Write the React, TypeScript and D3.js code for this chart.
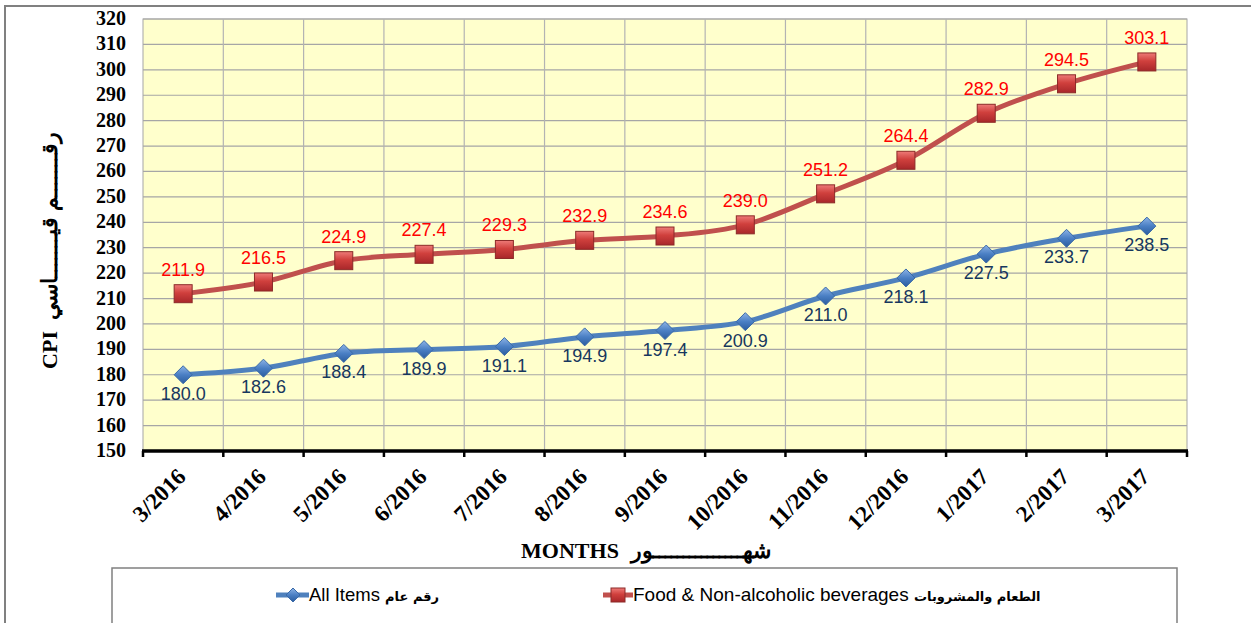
import React, { useEffect, useRef } from "react";
import * as d3 from "d3";

const months = [
  "3/2016", "4/2016", "5/2016", "6/2016", "7/2016", "8/2016", "9/2016",
  "10/2016", "11/2016", "12/2016", "1/2017", "2/2017", "3/2017",
];
const allItems = [180.0, 182.6, 188.4, 189.9, 191.1, 194.9, 197.4, 200.9, 211.0, 218.1, 227.5, 233.7, 238.5];
const foodBev = [211.9, 216.5, 224.9, 227.4, 229.3, 232.9, 234.6, 239.0, 251.2, 264.4, 282.9, 294.5, 303.1];
const yTicks = d3.range(150, 321, 10);

const W = 1251;
const H = 623;
const plot = { left: 143, right: 1187, top: 19, bottom: 451 };

export default function App() {
  const ref = useRef<SVGSVGElement>(null);

  useEffect(() => {
    document.body.style.margin = "0";
    const svg = d3.select(ref.current);
    svg.selectAll("*").remove();

    const defs = svg.append("defs");
    const rg = defs.append("linearGradient").attr("id", "redG").attr("x1", 0).attr("y1", 0).attr("x2", 0).attr("y2", 1);
    rg.append("stop").attr("offset", "0%").attr("stop-color", "#ee7b78");
    rg.append("stop").attr("offset", "45%").attr("stop-color", "#d0403d");
    rg.append("stop").attr("offset", "100%").attr("stop-color", "#a8272a");
    const bg = defs.append("linearGradient").attr("id", "blueG").attr("x1", 0).attr("y1", 0).attr("x2", 0).attr("y2", 1);
    bg.append("stop").attr("offset", "0%").attr("stop-color", "#8db3e6");
    bg.append("stop").attr("offset", "50%").attr("stop-color", "#4a7fc4");
    bg.append("stop").attr("offset", "100%").attr("stop-color", "#2b5c9e");

    // outer frame
    svg.append("rect").attr("width", W).attr("height", H).attr("fill", "#fff");
    svg.append("path").attr("d", `M5,${H} V6 H${W}`).attr("fill", "none").attr("stroke", "#808080").attr("stroke-width", 2);

    const x = d3.scaleBand().domain(months).range([plot.left, plot.right]).padding(0);
    const y = d3.scaleLinear().domain([150, 320]).range([plot.bottom, plot.top]);
    const cx = (m: string) => (x(m) as number) + x.bandwidth() / 2;

    svg.append("rect")
      .attr("x", plot.left).attr("y", plot.top)
      .attr("width", plot.right - plot.left).attr("height", plot.bottom - plot.top)
      .attr("fill", "#ffffcc").attr("stroke", "#a6a6a6");

    // grid
    svg.append("g").selectAll("line").data(yTicks.slice(1)).enter().append("line")
      .attr("x1", plot.left).attr("x2", plot.right)
      .attr("y1", (d) => y(d)).attr("y2", (d) => y(d))
      .attr("stroke", "#a6a6a6").attr("stroke-width", 1.2);
    svg.append("g").selectAll("line").data(months.slice(1)).enter().append("line")
      .attr("x1", (d) => x(d) as number).attr("x2", (d) => x(d) as number)
      .attr("y1", plot.top).attr("y2", plot.bottom)
      .attr("stroke", "#b3b3b3").attr("stroke-width", 1.2);

    // y tick labels
    svg.append("g").selectAll("text").data(yTicks).enter().append("text")
      .attr("x", 126).attr("y", (d) => y(d) + 6)
      .attr("text-anchor", "end")
      .style("font-family", "'Liberation Serif', serif").style("font-weight", "bold").style("font-size", "20px")
      .text((d) => d);

    // x axis
    const bounds = months.map((m) => x(m) as number).concat([plot.right]);
    svg.append("line").attr("x1", plot.left - 1).attr("x2", plot.right + 1)
      .attr("y1", plot.bottom).attr("y2", plot.bottom)
      .attr("stroke", "#000").attr("stroke-width", 3.5);
    svg.append("g").selectAll("line").data(bounds).enter().append("line")
      .attr("x1", (d) => d).attr("x2", (d) => d)
      .attr("y1", plot.bottom).attr("y2", plot.bottom + 6)
      .attr("stroke", "#000").attr("stroke-width", 2.5);

    svg.append("g").selectAll("text").data(months).enter().append("text")
      .attr("transform", (d) => `translate(${cx(d) + 4},${plot.bottom + 27}) rotate(-45)`)
      .attr("text-anchor", "end")
      .style("font-family", "'Liberation Serif', serif").style("font-weight", "bold").style("font-size", "23px")
      .text((d) => d);

    // axis titles
    const titleStyle = (t: d3.Selection<SVGTextElement, unknown, null, undefined>) =>
      t.style("font-family", "'Liberation Serif', 'DejaVu Serif', serif").style("font-weight", "bold").style("font-size", "22px");
    svg.append("text").attr("x", 570).attr("y", 558).attr("text-anchor", "middle").call(titleStyle).text("MONTHS");
    svg.append("text").attr("x", 701).attr("y", 558).attr("text-anchor", "middle").call(titleStyle).text("شهـــــــــــــــور");
    svg.append("text").attr("transform", "translate(57,350) rotate(-90)").attr("text-anchor", "middle").call(titleStyle).text("CPI");
    svg.append("text").attr("transform", "translate(57,226) rotate(-90)").attr("text-anchor", "middle").call(titleStyle).text("رقـــــــم قيـــــــاسي");

    // series
    const line = d3.line<number>()
      .x((_, i) => cx(months[i]))
      .y((d) => y(d))
      .curve(d3.curveCatmullRom.alpha(0));

    const series = [
      { data: foodBev, color: "#c0504d", label: "#ff0000", above: true },
      { data: allItems, color: "#4f81bd", label: "#17375e", above: false },
    ];

    series.forEach((s) => {
      svg.append("path").attr("d", line(s.data)).attr("fill", "none")
        .attr("stroke", s.color).attr("stroke-width", 5).attr("stroke-linejoin", "round");
    });

    // markers
    svg.append("g").selectAll("rect").data(foodBev).enter().append("rect")
      .attr("x", (_, i) => cx(months[i]) - 9).attr("y", (d) => y(d) - 9)
      .attr("width", 18).attr("height", 18)
      .attr("fill", "url(#redG)").attr("stroke", "#8c2a28").attr("stroke-width", 1);
    svg.append("g").selectAll("path").data(allItems).enter().append("path")
      .attr("d", (d, i) => {
        const px = cx(months[i]);
        const py = y(d);
        return `M${px},${py - 9} L${px + 9},${py} L${px},${py + 9} L${px - 9},${py} Z`;
      })
      .attr("fill", "url(#blueG)").attr("stroke", "#3a6aa8").attr("stroke-width", 1);

    // data labels
    series.forEach((s) => {
      svg.append("g").selectAll("text").data(s.data).enter().append("text")
        .attr("x", (_, i) => cx(months[i]))
        .attr("y", (d) => (s.above ? y(d) - 18 : y(d) + 25))
        .attr("text-anchor", "middle")
        .style("font-family", "'Liberation Sans', Arial, sans-serif").style("font-size", "18px")
        .attr("fill", s.label)
        .text((d) => d.toFixed(1));
    });

    // legend
    svg.append("path").attr("d", `M112,${H} V568 H1177 V${H}`).attr("fill", "none").attr("stroke", "#808080").attr("stroke-width", 1.5);
    const lg = svg.append("g");
    lg.append("line").attr("x1", 276).attr("x2", 309).attr("y1", 595).attr("y2", 595).attr("stroke", "#4f81bd").attr("stroke-width", 5);
    lg.append("path").attr("d", "M293,588 L300,595 L293,602 L286,595 Z").attr("fill", "url(#blueG)").attr("stroke", "#3a6aa8");
    const t1 = lg.append("text").attr("x", 309).attr("y", 601)
      .style("font-family", "'Liberation Sans', Arial, sans-serif").style("font-size", "18.5px");
    t1.append("tspan").text("All Items ");
    t1.append("tspan").style("font-weight", "bold").style("font-family", "'DejaVu Sans', sans-serif").style("font-size", "13px").text("رقم عام");

    lg.append("line").attr("x1", 603).attr("x2", 633).attr("y1", 595).attr("y2", 595).attr("stroke", "#c0504d").attr("stroke-width", 5);
    lg.append("rect").attr("x", 611).attr("y", 588).attr("width", 14).attr("height", 14).attr("fill", "url(#redG)").attr("stroke", "#8c2a28");
    const t2 = lg.append("text").attr("x", 633).attr("y", 601)
      .style("font-family", "'Liberation Sans', Arial, sans-serif").style("font-size", "19px");
    t2.append("tspan").text("Food & Non-alcoholic beverages ");
    t2.append("tspan").style("font-weight", "bold").style("font-family", "'DejaVu Sans', sans-serif").style("font-size", "13px").text("الطعام والمشروبات");
  }, []);

  return (
    <svg ref={ref} width={W} height={H} style={{ position: "absolute", left: 0, top: 0, display: "block" }} />
  );
}
